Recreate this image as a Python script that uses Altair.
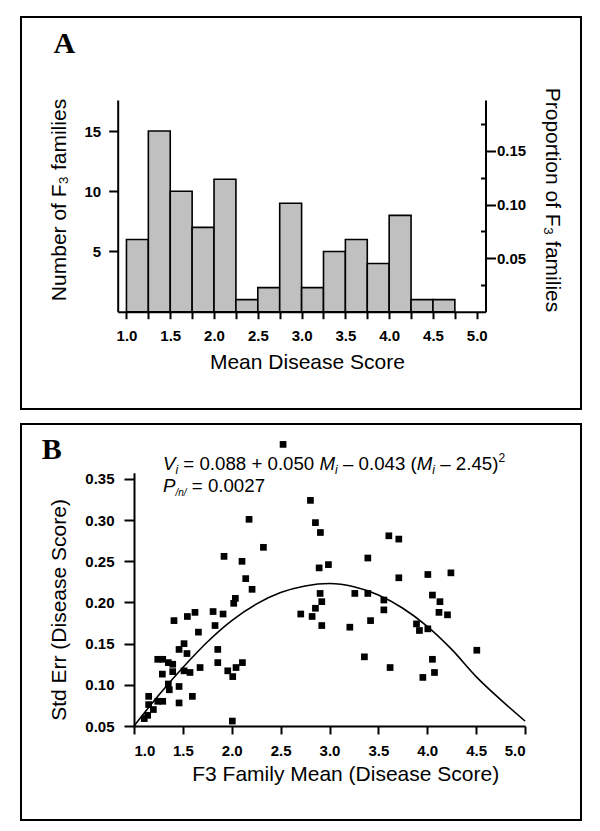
import altair as alt
import pandas as pd

# ---------------- Panel A : histogram of F3 family means ----------------
bin_start = [1.00, 1.25, 1.50, 1.75, 2.00, 2.25, 2.50, 2.75, 3.00, 3.25, 3.50, 3.75, 4.00, 4.25, 4.50]
bin_end = [1.25, 1.50, 1.75, 2.00, 2.25, 2.50, 2.75, 3.00, 3.25, 3.50, 3.75, 4.00, 4.25, 4.50, 4.75]
family_counts = [6, 15, 10, 7, 11, 1, 2, 9, 2, 5, 6, 4, 8, 1, 1]
n_families = 89

count_ticks = [5, 10, 15]
prop_ticks = [0.05, 0.10, 0.15]
prop_minor_ticks = [0.025, 0.075, 0.125, 0.175]
score_ticks_a = [1.0, 1.25, 1.5, 1.75, 2.0, 2.25, 2.5, 2.75, 3.0, 3.25, 3.5, 3.75, 4.0, 4.25, 4.5, 4.75, 5.0]

# ---------------- Panel B : std err vs family mean ----------------
family_mean = [2.525, 2.177, 2.805, 2.856, 2.907, 2.324, 1.921, 2.105, 2.894, 2.989,
               2.143, 2.208, 2.037, 2.020, 2.904, 2.921, 2.856, 2.706, 2.822, 2.921,
               3.259, 3.208, 1.409, 1.546, 1.624, 1.809, 1.911, 1.829, 1.659, 1.512,
               1.461, 1.542, 1.857, 1.243, 1.294, 1.351, 1.396, 1.290, 1.396, 1.512,
               1.573, 1.676, 1.857, 1.959, 2.044, 2.109, 2.010, 1.351, 1.361, 1.461,
               1.150, 1.243, 1.294, 1.461, 1.597, 1.150, 1.198, 1.140, 1.105, 2.006,
               3.556, 3.556, 3.420, 3.357, 3.620, 3.890, 3.920, 4.006, 4.130, 4.120,
               4.207, 4.053, 4.074, 3.955, 4.507, 3.607, 3.709, 3.392, 3.709, 4.006,
               4.242, 3.392, 4.053]
std_err = [0.392, 0.301, 0.324, 0.297, 0.285, 0.267, 0.256, 0.250, 0.242, 0.246,
           0.229, 0.216, 0.205, 0.199, 0.211, 0.201, 0.193, 0.186, 0.183, 0.172,
           0.211, 0.170, 0.178, 0.183, 0.188, 0.189, 0.186, 0.172, 0.164, 0.150,
           0.143, 0.138, 0.143, 0.131, 0.131, 0.127, 0.125, 0.113, 0.116, 0.117,
           0.115, 0.121, 0.127, 0.117, 0.121, 0.127, 0.110, 0.101, 0.094, 0.098,
           0.086, 0.080, 0.080, 0.078, 0.086, 0.076, 0.070, 0.063, 0.059, 0.056,
           0.203, 0.191, 0.178, 0.134, 0.121, 0.174, 0.166, 0.168, 0.201, 0.188,
           0.185, 0.131, 0.115, 0.109, 0.142, 0.281, 0.277, 0.254, 0.230, 0.234,
           0.236, 0.211, 0.209]
fit_mean = [1.0, 1.25, 1.5, 1.75, 2.0, 2.25, 2.5, 2.75, 3.0, 3.25, 3.5, 3.75, 4.0, 4.25, 4.5, 4.75, 5.0]
fit_se = [0.050, 0.087, 0.121, 0.152, 0.178, 0.198, 0.212, 0.220, 0.223, 0.219, 0.209, 0.193, 0.171, 0.143, 0.110, 0.082, 0.056]
se_ticks = [0.05, 0.10, 0.15, 0.20, 0.25, 0.30, 0.35]
mean_ticks_b = [1.0, 1.5, 2.0, 2.5, 3.0, 3.5, 4.0, 4.5, 5.0]

SANS = "Liberation Sans"
SERIF = "Liberation Serif"
W, H = 584, 815

hist = pd.DataFrame({"start": bin_start, "end": bin_end, "count": family_counts})
hist["prop"] = hist["count"] / n_families
pts = pd.DataFrame({"m": family_mean, "se": std_err})
fit = pd.DataFrame({"m": fit_mean, "se": fit_se})
one = pd.DataFrame({"k": [0]})


def ax(**kw):
    base = dict(title=None, grid=False, domainColor="black", domainWidth=2,
                tickColor="black", tickWidth=2, labelColor="black", labelFont=SANS,
                labelFontWeight="bold", labelFontSize=15)
    base.update(kw)
    return alt.Axis(**base)


def txt(s, x, y, size, font=SANS, style="normal", weight="normal",
        align="left", baseline="alphabetic", angle=0):
    return alt.Chart(one).mark_text(
        text=s, font=font, fontSize=size, fontStyle=style, fontWeight=weight,
        align=align, baseline=baseline, angle=angle, color="black"
    ).encode(x=alt.value(x), y=alt.value(y))


def box(x0, y0, x1, y1):
    return alt.Chart(one).mark_rect(fillOpacity=0, stroke="black", strokeWidth=2).encode(
        x=alt.value(x0), x2=alt.value(x1), y=alt.value(y0), y2=alt.value(y1))


# ---------- Panel A ----------
xA = alt.Scale(domain=[0.9, 5.1], range=[109.7, 477.5], nice=False, zero=False)
yA = alt.Scale(domain=[0, 17.58], range=[303.7, 92], nice=False, zero=False)
yP = alt.Scale(domain=[0, 17.58 / n_families], range=[303.7, 92], nice=False, zero=False)

bars = alt.Chart(hist).mark_rect(fill="#c0c0c0", stroke="black", strokeWidth=1.6).encode(
    x=alt.X("start:Q", scale=xA,
            axis=ax(orient="bottom", offset=303.7 - H, values=score_ticks_a, tickSize=7,
                    labelPadding=10,
                    labelExpr="datum.value % 0.5 == 0 ? format(datum.value, '.1f') : ''")),
    x2="end:Q",
    y=alt.Y("count:Q", scale=yA,
            axis=ax(orient="left", offset=-109.7, values=count_ticks, tickSize=9, labelPadding=8)),
    y2=alt.datum(0),
)
prop_major = alt.Chart(hist).mark_point(opacity=0).encode(
    y=alt.Y("prop:Q", scale=yP,
            axis=ax(orient="right", offset=477.5 - W, values=prop_ticks, format=".2f",
                    tickSize=10, labelPadding=1)))
prop_minor = alt.Chart(hist).mark_point(opacity=0).encode(
    y=alt.Y("prop:Q", scale=yP,
            axis=ax(orient="right", offset=472.5 - W, values=prop_minor_ticks,
                    tickSize=5, labels=False, domain=False)))
panelA = alt.layer(bars, prop_major, prop_minor).resolve_scale(y="independent").resolve_axis(y="independent")

# ---------- Panel B ----------
xB = alt.Scale(domain=[1, 5], range=[126, 517], nice=False, zero=False)
yB = alt.Scale(domain=[0.05, 0.3575], range=[718, 464.8], nice=False, zero=False)
axXB = ax(orient="bottom", offset=718 - H, values=mean_ticks_b, format=".1f", tickSize=8, labelPadding=9)
axYB = ax(orient="left", offset=-126, values=se_ticks, format=".2f", tickSize=10, labelPadding=10)

points = alt.Chart(pts).mark_square(size=45, color="black", opacity=1, clip=False).encode(
    x=alt.X("m:Q", scale=xB, axis=axXB), y=alt.Y("se:Q", scale=yB, axis=axYB))
curve = alt.Chart(fit).mark_line(color="black", strokeWidth=1.6, interpolate="monotone").encode(
    x=alt.X("m:Q", scale=xB, axis=axXB), y=alt.Y("se:Q", scale=yB, axis=axYB))
panelB = alt.layer(points, curve)

# ---------- equation (rich text built from segments) ----------
AW = {" ": 278, "=": 584, "+": 584, ".": 278, "(": 333, ")": 333, "\u2013": 556,
      "V": 667, "M": 833, "i": 222, "P": 667, "/": 278, "n": 556}
for d in "0123456789":
    AW[d] = 556


def tw(s, size):
    return sum(AW[c] for c in s) * size / 1000.0


def rich(segs, x0, y0):
    layers = []
    x = x0
    for s, size, style, dy in segs:
        lead = len(s) - len(s.lstrip(" "))
        x += tw(" " * lead, size)
        core = s.strip(" ")
        layers.append(txt(core, x, y0 + dy, size, style=style))
        x += tw(s.lstrip(" "), size)
    return layers


FS = 18.7
line1 = [("V", FS, "italic", 0), ("i", 12, "italic", 4), (" = 0.088 + 0.050 ", FS, "normal", 0),
         ("M", FS, "italic", 0), ("i", 12, "italic", 4), (" \u2013 0.043 (", FS, "normal", 0),
         ("M", FS, "italic", 0), ("i", 12, "italic", 4), (" \u2013 2.45)", FS, "normal", 0),
         ("2", 12, "normal", -8)]
line2 = [("P", FS, "italic", 0), ("/n/", 10, "italic", 4), (" = 0.0027", FS, "normal", 0)]

texts = [
    txt("A", 45.5, 45.3, 30, font=SERIF, weight="bold"),
    txt("B", 33.7, 451.3, 30, font=SERIF, weight="bold"),
    txt("Number of F\u2083 families", 52, 192, 21, align="center", baseline="middle", angle=270),
    txt("Proportion of F\u2083 families", 543.5, 192, 21, align="center", baseline="middle", angle=90),
    txt("Mean Disease Score", 299.4, 355, 21, align="center", baseline="middle"),
    txt("Std Err (Disease Score)", 52, 602, 21, align="center", baseline="middle", angle=270),
    txt("F3 Family Mean (Disease Score)", 337.7, 767, 21, align="center", baseline="middle"),
] + rich(line1, 155, 462) + rich(line2, 155, 483.5)

chart = alt.layer(
    box(13, 9, 573, 401), box(13, 416, 573, 812), panelA, panelB, *texts
).resolve_scale(x="independent", y="independent").resolve_axis(
    x="independent", y="independent"
).properties(
    width=W, height=H, padding=0, autosize=alt.AutoSizeParams(type="none")
).configure_view(stroke="transparent")

chart.save("out.html", embed_options={"renderer": "svg", "actions": False})
